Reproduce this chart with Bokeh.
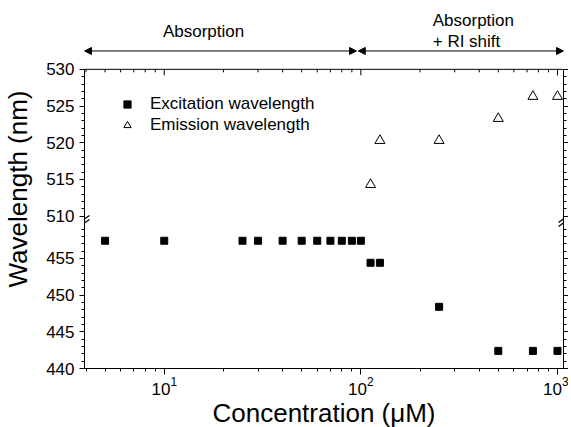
import math
from bokeh.plotting import figure
from bokeh.models import (LinearAxis, FixedTicker, Range1d, Label, Arrow,
                          NormalHead, Legend, LegendItem, ColumnDataSource)
from bokeh.embed import file_html
from bokeh.resources import INLINE

# ---------------- data ----------------
ex_conc = [5, 10, 25, 30, 40, 50, 60, 70, 80, 90, 100, 112, 125, 250, 500, 750, 1000]
ex_wl = [457.4, 457.4, 457.4, 457.4, 457.4, 457.4, 457.4, 457.4, 457.4, 457.4, 457.4,
         454.4, 454.4, 448.4, 442.4, 442.4, 442.4]
em_conc = [112, 125, 250, 500, 750, 1000]
em_wl = [514.3, 520.3, 520.3, 523.3, 526.3, 526.3]

x_major = [10, 100, 1000]
x_minor = [4, 5, 6, 7, 8, 9, 20, 30, 40, 50, 60, 70, 80, 90,
           200, 300, 400, 500, 600, 700, 800, 900]
y_lower_major = [440, 445, 450, 455]
y_upper_major = [510, 515, 520, 525, 530]
y_lower_minor = [441, 442, 443, 444, 446, 447, 448, 449, 451, 452, 453, 454,
                 456, 457, 458, 459]
y_upper_minor = [511, 512, 513, 514, 516, 517, 518, 519, 521, 522, 523, 524,
                 526, 527, 528, 529]

# axis break: values above the break are shifted down by UPPER_OFFSET
UPPER_OFFSET = 49.25
BREAK_AT = 460.1
X_START, X_END = 3.93, 1073
Y_START, Y_END = 440, 530
Y_VIEW_END = 488.9          # room above the axes box for the region notes

region_texts = ["Absorption", "Absorption", "+ RI shift"]
region_text_x = [15.85, 232, 232]
region_text_y = [535.1, 536.7, 533.8]      # in real (upper segment) units
arrow_y = 532.5
arrow_left = (X_START, 95)
arrow_right = (97, X_END)

FONT = "Liberation Sans"
FRAME_W, FRAME_H = 479, 359


def ymap(v):
    return v - UPPER_OFFSET if v > 480 else v


Y_LO, Y_HI = ymap(Y_START), ymap(Y_END)

p = figure(x_axis_type="log",
           x_range=Range1d(X_START, X_END),
           y_range=Range1d(Y_LO, Y_VIEW_END),
           frame_width=FRAME_W, frame_height=FRAME_H,
           min_border_left=79, min_border_right=5,
           min_border_top=9, min_border_bottom=52,
           output_backend="svg", toolbar_location=None,
           x_axis_label="Concentration (\u03bcM)",
           y_axis_label="Wavelength (nm)")
p.xgrid.visible = False
p.ygrid.visible = False
p.outline_line_color = None
p.background_fill_color = "white"
p.border_fill_color = "white"

px_per_decade = FRAME_W / (math.log10(X_END) - math.log10(X_START))
px_per_unit = FRAME_H / (Y_VIEW_END - Y_LO)

# ---------------- axes ----------------
xt = FixedTicker(ticks=x_major, minor_ticks=x_minor)
yt = FixedTicker(ticks=[ymap(v) for v in y_lower_major + y_upper_major],
                 minor_ticks=[ymap(v) for v in y_lower_minor + y_upper_minor])
ylab = {ymap(v): str(v) for v in y_lower_major + y_upper_major}

bx = p.xaxis[0]
bx.ticker = xt
by = p.yaxis[0]
by.ticker = yt
by.major_label_overrides = ylab
by.bounds = (Y_LO, Y_HI)

right = LinearAxis(ticker=yt, bounds=(Y_LO, Y_HI))
p.add_layout(right, "right")

for ax in (bx, by, right):
    ax.axis_line_color = "black"
    ax.axis_line_width = 1
    ax.major_tick_line_color = "black"
    ax.minor_tick_line_color = "black"
    ax.major_label_text_color = "black"
    ax.major_label_text_font = FONT
    ax.axis_label_text_font = FONT
    ax.axis_label_text_font_style = "normal"
    ax.axis_label_text_color = "black"

bx.major_tick_in, bx.major_tick_out = 0, 6
bx.minor_tick_in, bx.minor_tick_out = 0, 3
bx.major_label_text_font_size = "17px"
bx.major_label_standoff = 2
bx.axis_label_text_font_size = "26px"
bx.axis_label_standoff = 0

by.major_tick_in, by.major_tick_out = 0, 5
by.minor_tick_in, by.minor_tick_out = 0, 3
by.major_label_text_font_size = "17px"
by.major_label_standoff = 5
by.axis_label_text_font_size = "26px"
by.axis_label_standoff = 10

right.major_tick_in, right.major_tick_out = 0, 5
right.minor_tick_in, right.minor_tick_out = 0, 3
right.major_label_text_font_size = "1px"
right.major_label_text_color = None
right.major_label_standoff = 0

# top edge of the axes box with inward ticks
p.segment(x0=[X_START], y0=[Y_HI], x1=[X_END], y1=[Y_HI], line_color="black", line_width=1)
maj_len = 6 / px_per_unit
min_len = 3 / px_per_unit
p.segment(x0=x_major, y0=[Y_HI] * len(x_major), x1=x_major,
          y1=[Y_HI - maj_len] * len(x_major), line_color="black", line_width=1)
p.segment(x0=x_minor, y0=[Y_HI] * len(x_minor), x1=x_minor,
          y1=[Y_HI - min_len] * len(x_minor), line_color="black", line_width=1)

# ---------------- data glyphs ----------------
src_ex = ColumnDataSource(dict(x=ex_conc, y=[ymap(v) for v in ex_wl]))
src_em = ColumnDataSource(dict(x=em_conc, y=[ymap(v) for v in em_wl]))
r_ex = p.scatter("x", "y", source=src_ex, marker="square", size=7,
                 fill_color="black", line_color="black")
r_em = p.scatter("x", "y", source=src_em, marker="triangle", size=10,
                 fill_color="white", line_color="black", line_width=1)

legend = Legend(items=[LegendItem(label="Excitation wavelength", renderers=[r_ex]),
                       LegendItem(label="Emission wavelength", renderers=[r_em])],
                location=(34, 233), padding=0, margin=0, spacing=1,
                glyph_width=18, glyph_height=18, label_height=20,
                label_standoff=14, border_line_color=None,
                background_fill_alpha=0,
                label_text_font=FONT, label_text_font_size="17px",
                label_text_color="black")
p.add_layout(legend)

# ---------------- axis break marks ----------------
fx = 10 ** (5 / px_per_decade)
dy = 3.5 / px_per_unit
sep = 2.0 / px_per_unit
bx0, bx1, by0, by1 = [], [], [], []
for xc in (X_START, X_END):
    for s in (-sep, sep):
        bx0.append(xc / fx)
        bx1.append(xc * fx)
        by0.append(BREAK_AT + s - dy)
        by1.append(BREAK_AT + s + dy)
p.segment(x0=bx0, y0=by0, x1=bx1, y1=by1, line_color="black", line_width=1.2)

# ---------------- region annotations ----------------
ay = ymap(arrow_y)
for xs, xe in (arrow_left, arrow_right):
    p.add_layout(Arrow(x_start=xs, y_start=ay, x_end=xe, y_end=ay,
                       start=NormalHead(size=7, fill_color="black", line_color="black"),
                       end=NormalHead(size=7, fill_color="black", line_color="black"),
                       line_color="black", line_width=1))
for t, xx, yy, al in zip(region_texts, region_text_x, region_text_y,
                         ["center", "left", "left"]):
    p.add_layout(Label(x=xx, y=ymap(yy), text=t, text_align=al,
                       text_baseline="middle", text_font=FONT,
                       text_font_size="17px", text_color="black"))

open("out.html", "w").write(file_html(p, INLINE))
